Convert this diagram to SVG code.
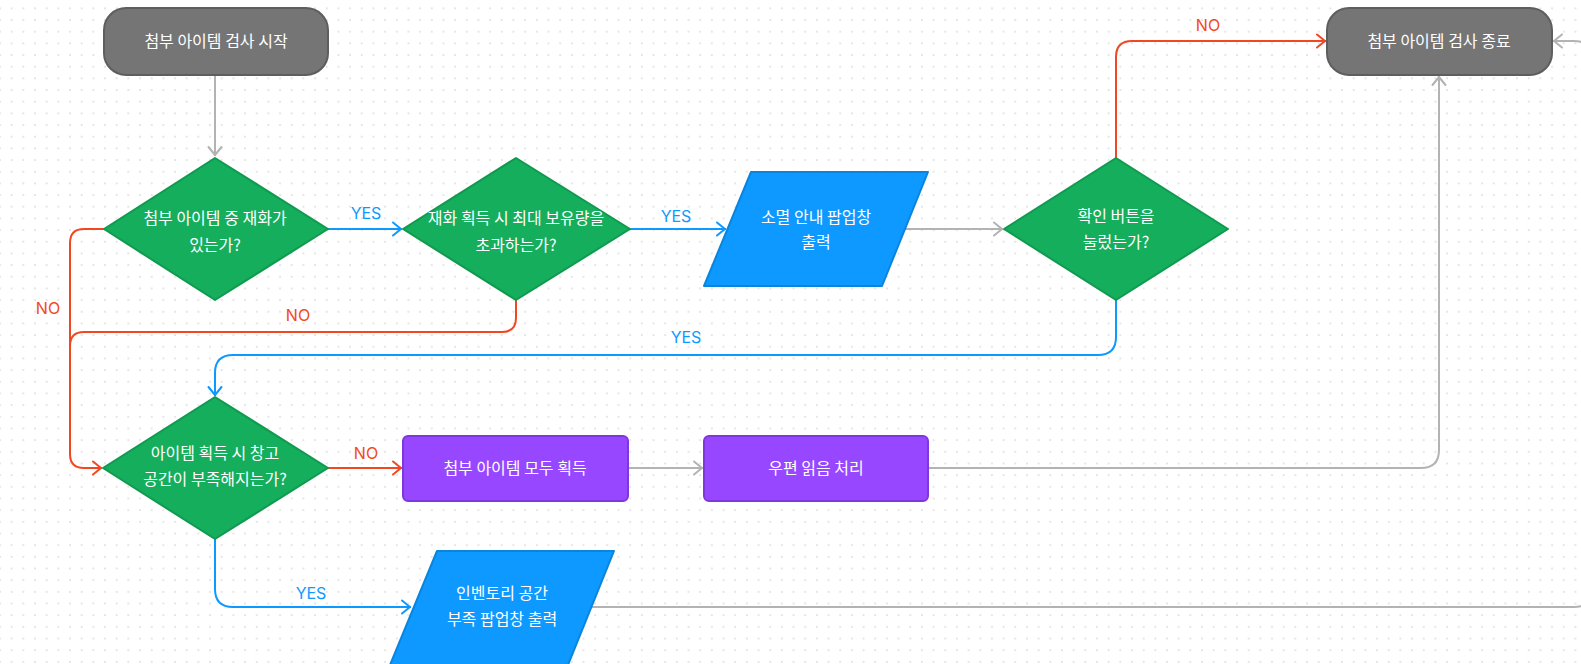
<svg xmlns="http://www.w3.org/2000/svg" width="1581" height="664" viewBox="0 0 1581 664">
<style>
.term{fill:#757575;stroke:#5e5e5e;stroke-width:2}
.dec{fill:#14ae5c;stroke:#0f9a50;stroke-width:2;stroke-linejoin:round}
.io{fill:#0d99ff;stroke:#0a85dd;stroke-width:2;stroke-linejoin:round}
.proc{fill:#9747ff;stroke:#7e37dc;stroke-width:2}
.t{font-family:"Noto Sans CJK KR","Noto Sans",sans-serif;font-size:16px;fill:#ffffff;text-anchor:middle}
.e{fill:none;stroke-width:2}
.red{stroke:#f24822}
.blue{stroke:#0d99ff}
.gray{stroke:#b3b3b3}
.lbl{font-family:Inter,"Noto Sans",sans-serif;font-size:16px;text-anchor:middle}
.lr{fill:#f24822}
.lb{fill:#0d99ff}
</style>
<defs>
<pattern id="dots" patternUnits="userSpaceOnUse" x="5.83" y="2.5" width="11.67" height="11.67">
<circle cx="5.83" cy="5.83" r="0.9" fill="#dadada"/>
</pattern>
<marker id="aR" markerUnits="userSpaceOnUse" viewBox="-11 -8 13 16" refX="1" refY="0" markerWidth="13" markerHeight="16" orient="auto">
<path d="M-8,-6.5 L0,0 L-8,6.5" fill="none" stroke="#f24822" stroke-width="2" stroke-linecap="round" stroke-linejoin="round"/>
</marker>
<marker id="aB" markerUnits="userSpaceOnUse" viewBox="-11 -8 13 16" refX="1" refY="0" markerWidth="13" markerHeight="16" orient="auto">
<path d="M-8,-6.5 L0,0 L-8,6.5" fill="none" stroke="#0d99ff" stroke-width="2" stroke-linecap="round" stroke-linejoin="round"/>
</marker>
<marker id="aG" markerUnits="userSpaceOnUse" viewBox="-11 -8 13 16" refX="1" refY="0" markerWidth="13" markerHeight="16" orient="auto">
<path d="M-8,-6.5 L0,0 L-8,6.5" fill="none" stroke="#b3b3b3" stroke-width="2" stroke-linecap="round" stroke-linejoin="round"/>
</marker>
</defs>
<rect width="1581" height="664" fill="#ffffff"/>
<rect width="1581" height="664" fill="url(#dots)"/>

<g id="connectors">
<path class="e gray" d="M215,75 L215,156" marker-end="url(#aG)"/>
<path class="e blue" d="M328,229 L402,229" marker-end="url(#aB)"/>
<path class="e blue" d="M630,229 L726,229" marker-end="url(#aB)"/>
<path class="e gray" d="M905,229 L1003,229" marker-end="url(#aG)"/>
<path class="e red" d="M1116,158 L1116,57 Q1116,41 1132,41 L1326,41" marker-end="url(#aR)"/>
<path class="e blue" d="M1116,300 L1116,337 Q1116,355 1098,355 L233,355 Q215,355 215,373 L215,396" marker-end="url(#aB)"/>
<path class="e red" d="M104,229 L84,229 Q70,229 70,243 L70,454 Q70,468 84,468 L102,468" marker-end="url(#aR)"/>
<path class="e red" d="M516,300 L516,318 Q516,332 502,332 L84,332 Q70,332 70,346"/>
<path class="e red" d="M328,468 L402,468" marker-end="url(#aR)"/>
<path class="e gray" d="M628,468 L703,468" marker-end="url(#aG)"/>
<path class="e gray" d="M928,468 L1421,468 Q1439,468 1439,450 L1439,76" marker-end="url(#aG)"/>
<path class="e blue" d="M215,539 L215,589 Q215,607 233,607 L411,607" marker-end="url(#aB)"/>
<path class="e gray" d="M590,607 L1574,607 Q1592,607 1592,589 L1592,59 Q1592,41 1574,41 L1553,41" marker-end="url(#aG)"/>
<text class="lbl lb" x="366" y="219">YES</text>
<text class="lbl lb" x="676" y="222">YES</text>
<text class="lbl lr" x="1208" y="31">NO</text>
<text class="lbl lb" x="686" y="343">YES</text>
<text class="lbl lr" x="48" y="314">NO</text>
<text class="lbl lr" x="298" y="321">NO</text>
<text class="lbl lr" x="366" y="459">NO</text>
<text class="lbl lb" x="311" y="599">YES</text>
</g>

<g id="start">
<rect class="term" x="104" y="8" width="224" height="67" rx="22"/>
<text class="t" x="216" y="47">첨부 아이템 검사 시작</text>
</g>
<g id="end">
<rect class="term" x="1327" y="8" width="225" height="67" rx="22"/>
<text class="t" x="1439" y="47">첨부 아이템 검사 종료</text>
</g>
<g id="dec-currency">
<polygon class="dec" points="215,158 328,229 215,300 104,229"/>
<text class="t" x="215" y="224">첨부 아이템 중 재화가</text>
<text class="t" x="215" y="251">있는가?</text>
</g>
<g id="dec-overflow">
<polygon class="dec" points="516,158 630,229 516,300 403,229"/>
<text class="t" x="516" y="224">재화 획득 시 최대 보유량을</text>
<text class="t" x="516" y="251">초과하는가?</text>
</g>
<g id="popup-expire">
<polygon class="io" points="751,172 928,172 882,286 704,286"/>
<text class="t" x="816" y="223">소멸 안내 팝업창</text>
<text class="t" x="816" y="248">출력</text>
</g>
<g id="dec-confirm">
<polygon class="dec" points="1116,158 1228,229 1116,300 1004,229"/>
<text class="t" x="1116" y="222">확인 버튼을</text>
<text class="t" x="1116" y="248">눌렀는가?</text>
</g>
<g id="dec-storage">
<polygon class="dec" points="215,397 328,468 215,539 103,468"/>
<text class="t" x="215" y="459">아이템 획득 시 창고</text>
<text class="t" x="215" y="485">공간이 부족해지는가?</text>
</g>
<g id="acquire-all">
<rect class="proc" x="403" y="436" width="225" height="65" rx="5"/>
<text class="t" x="515" y="474">첨부 아이템 모두 획득</text>
</g>
<g id="mark-read">
<rect class="proc" x="704" y="436" width="224" height="65" rx="5"/>
<text class="t" x="816" y="474">우편 읽음 처리</text>
</g>
<g id="popup-inventory">
<polygon class="io" points="437,551 614,551 568,665 390,665"/>
<text class="t" x="502" y="599">인벤토리 공간</text>
<text class="t" x="502" y="625">부족 팝업창 출력</text>
</g>
</svg>
